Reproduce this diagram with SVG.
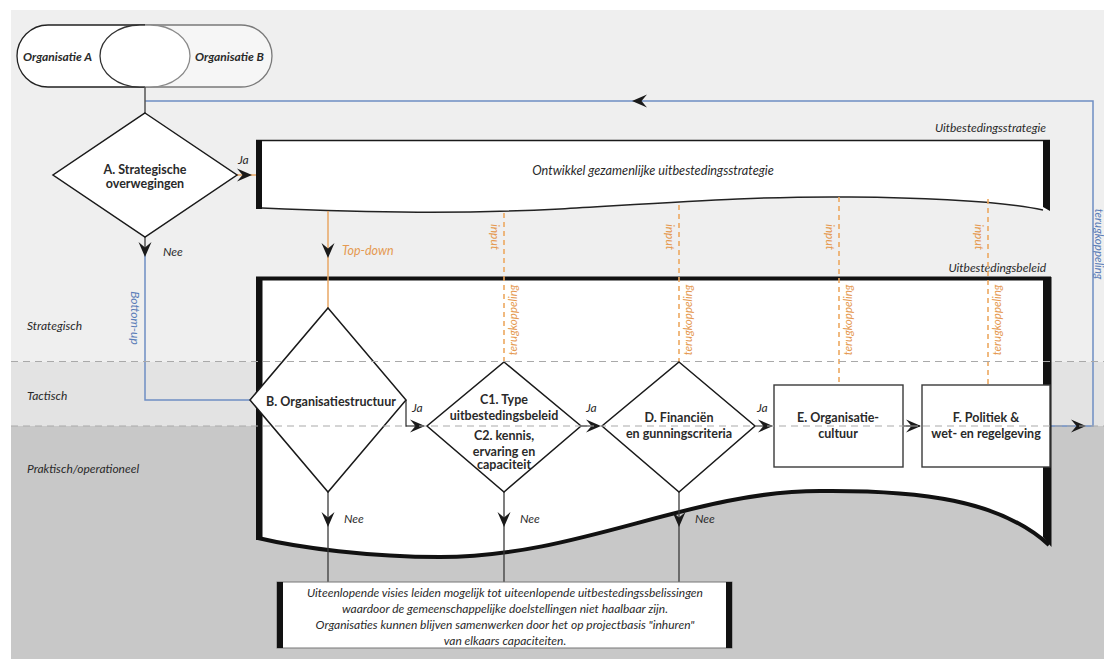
<svg xmlns="http://www.w3.org/2000/svg" width="1104" height="659" viewBox="0 0 1104 659">
  <style>
    .t { font-family: Lato, "Open Sans", "Liberation Sans", sans-serif; fill: #2a2a2a; }
    .b { font-weight: 700; font-size: 12.5px; }
    .i { font-style: italic; }
    .s11 { font-size: 11.5px; }
    .s12 { font-size: 12px; }
    .or { fill: #e59a52; }
    .bl { fill: #5a7db8; }
    .mid { text-anchor: middle; }
    .end { text-anchor: end; }
    .node { fill: #fff; stroke: #1a1a1a; stroke-width: 1.5; }
    .box { fill: #fff; stroke: #3a3a3a; stroke-width: 1.4; }
    .wire { fill: none; stroke: #3a3a3a; stroke-width: 1.3; }
    .blue { fill: none; stroke: #6f8fc4; stroke-width: 1.5; }
    .orange { fill: none; stroke: #e9a764; stroke-width: 1.5; }
    .odash { fill: none; stroke: #eda860; stroke-width: 1.6; stroke-dasharray: 5 4; }
    .band { fill: none; stroke: #a9a9a9; stroke-width: 1; stroke-dasharray: 7 5; }
  </style>
  <defs>
    <!-- chevron arrowhead, tip at the origin, pointing along +x -->
    <path id="ah" d="M0,0 L-15,-6.5 L-9.5,0 L-15,6.5 Z" fill="#1a1a1a"/>
  </defs>

  <!-- level bands -->
  <g id="bands">
    <rect x="0" y="0" width="1104" height="659" fill="#ffffff"/>
    <rect x="11" y="10" width="1093" height="352" fill="#efefef"/>
    <rect x="11" y="362" width="1093" height="64" fill="#e3e3e3"/>
    <rect x="11" y="426" width="1093" height="233" fill="#c8c8c8"/>
  </g>

  <!-- feedback loop behind the panels -->
  <g id="feedback-loop">
    <path class="blue" d="M1050,426 H1093 V101 H145"/>
  </g>

  <!-- partner organisations -->
  <g id="organisaties">
    <path d="M145,25 H241 A31,31 0 0 1 241,87 H145 Z" fill="#f6f6f6" stroke="#7a7a7a" stroke-width="1.3"/>
    <path d="M145,25 H48 A31,31 0 0 0 48,87 H145" fill="#ffffff" stroke="#222" stroke-width="1.3"/>
    <rect x="100" y="25" width="90" height="62" rx="40" ry="31" fill="#ffffff" stroke="none"/>
    <path d="M145,25 H140 A40,31 0 0 0 140,87 H145" fill="none" stroke="#333" stroke-width="1.3"/>
    <path d="M145,25 H150 A40,31 0 0 1 150,87 H145" fill="none" stroke="#8a8a8a" stroke-width="1.3"/>
    <text class="t i s12" x="23" y="61" font-weight="700">Organisatie A</text>
    <text class="t i s12" x="195" y="61" font-weight="700">Organisatie B</text>
  </g>

  <!-- outsourcing strategy panel -->
  <g id="uitbestedingsstrategie">
    <path d="M256,140 H1050 V210 L1043,210 C1010,203 960,198 850,197 C760,196 680,202 560,209 C460,214 380,213 262,208 L256,208 Z" fill="#ffffff"/>
    <path d="M262,208 C380,213 460,214 560,209 C680,202 760,196 850,197 C960,198 1010,203 1043,210" fill="none" stroke="#222" stroke-width="1.5"/>
    <line x1="256" y1="140.5" x2="1050" y2="140.5" stroke="#1a1a1a" stroke-width="1.3"/>
    <rect x="256" y="140" width="6" height="69" fill="#111"/>
    <path d="M1043,140 H1050 V211 L1043,207 Z" fill="#111"/>
    <text class="t i mid" x="653" y="175" font-size="12.7">Ontwikkel gezamenlijke uitbestedingsstrategie</text>
    <text class="t i s12 end" x="1046" y="132">Uitbestedingsstrategie</text>
  </g>

  <!-- outsourcing policy panel -->
  <g id="uitbestedingsbeleid">
    <path d="M256,277 H1051 V545 C1000,500 920,490 820,491 C690,491 580,557 440,557 C370,557 300,548 256,538 Z" fill="#ffffff"/>
    <path d="M1049,545 C1000,500 920,490 820,491 C690,491 580,557 440,557 C370,557 300,548 258,538" fill="none" stroke="#111" stroke-width="4"/>
    <rect x="256" y="276.5" width="795" height="4" fill="#111"/>
    <rect x="256" y="277" width="6.5" height="263" fill="#111"/>
    <path d="M1043,277 H1051.5 V547 L1043,537 Z" fill="#111"/>
    <text class="t i s12 end" x="1046" y="272">Uitbestedingsbeleid</text>
  </g>

  <!-- connectors -->
  <g id="connectors">
    <path d="M145,87 V113" stroke="#555" stroke-width="1.5" fill="none"/>
    <path class="orange" d="M237,175 H256"/>
    <use href="#ah" transform="translate(252,175)"/>
    <path class="wire" d="M145,237 V252"/>
    <path class="blue" d="M145,252 V400 H250"/>
    <use href="#ah" transform="translate(145,257) rotate(90)"/>
    <path class="orange" d="M328,211 V308"/>
    <use href="#ah" transform="translate(328,258) rotate(90)"/>
    <path class="odash" d="M504,213 V362"/>
    <path class="odash" d="M679,205 V362"/>
    <path class="odash" d="M839,197 V385"/>
    <path class="odash" d="M988,199 V385"/>
    <path class="wire" d="M406,400 V426 H424"/>
    <use href="#ah" transform="translate(425,426)"/>
    <path class="wire" d="M581,426 H600"/>
    <use href="#ah" transform="translate(601,426)"/>
    <path class="wire" d="M755,426 H772"/>
    <use href="#ah" transform="translate(773,426)"/>
    <path class="wire" d="M903,426 H920"/>
    <use href="#ah" transform="translate(921,426)"/>
    <use href="#ah" transform="translate(1086,426)"/>
    <use href="#ah" transform="translate(632,101) rotate(180)"/>
    <path class="wire" d="M328,492 V582"/>
    <path class="wire" d="M504,492 V582"/>
    <path class="wire" d="M679,492 V582"/>
    <use href="#ah" transform="translate(328,527) rotate(90)"/>
    <use href="#ah" transform="translate(504,527) rotate(90)"/>
    <use href="#ah" transform="translate(679,527) rotate(90)"/>
  </g>

  <!-- decision A -->
  <g id="node-a">
    <path class="node" d="M145,113 L237,175 L145,237 L53,175 Z"/>
    <text class="t b mid" x="145" y="174">A. Strategische</text>
    <text class="t b mid" x="145" y="188">overwegingen</text>
  </g>

  <!-- decision B -->
  <g id="node-b">
    <path class="node" d="M328,308 L406,400 L328,492 L250,400 Z"/>
    <text class="t b mid" x="331" y="406">B. Organisatiestructuur</text>
  </g>

  <!-- decision C -->
  <g id="node-c">
    <path class="node" d="M504,362 L581,426 L504,492 L427,426 Z"/>
    <text class="t b mid" x="504" y="404">C1. Type</text>
    <text class="t b mid" x="504" y="420">uitbestedingsbeleid</text>
    <text class="t b mid" x="504" y="440">C2. kennis,</text>
    <text class="t b mid" x="504" y="456">ervaring en</text>
    <text class="t b mid" x="504" y="469">capaciteit</text>
  </g>

  <!-- decision D -->
  <g id="node-d">
    <path class="node" d="M679,362 L755,426 L679,492 L602,426 Z"/>
    <text class="t b mid" x="679" y="422">D. Financiën</text>
    <text class="t b mid" x="679" y="438">en gunningscriteria</text>
  </g>

  <!-- step E -->
  <g id="node-e">
    <rect class="box" x="774" y="385" width="129" height="82"/>
    <text class="t b mid" x="838" y="422">E. Organisatie-</text>
    <text class="t b mid" x="838" y="438">cultuur</text>
  </g>

  <!-- step F -->
  <g id="node-f">
    <rect class="box" x="922" y="385" width="128" height="82"/>
    <text class="t b mid" x="986" y="422">F. Politiek &amp;</text>
    <text class="t b mid" x="986" y="438">wet- en regelgeving</text>
  </g>

  <!-- outcome when the answer is no -->
  <g id="node-nee">
    <rect x="277" y="582" width="455" height="66" fill="#fff" stroke="#777" stroke-width="1"/>
    <rect x="277" y="582" width="6" height="66" fill="#111"/>
    <rect x="726" y="582" width="6" height="66" fill="#111"/>
    <g class="t i mid" font-size="12">
      <text x="505" y="597">Uiteenlopende visies leiden mogelijk tot uiteenlopende uitbestedingssbelissingen</text>
      <text x="505" y="613">waardoor de gemeenschappelijke doelstellingen niet haalbaar zijn.</text>
      <text x="505" y="629">Organisaties kunnen blijven samenwerken door het op projectbasis "inhuren"</text>
      <text x="505" y="645">van elkaars capaciteiten.</text>
    </g>
  </g>

  <!-- level boundaries -->
  <g id="band-lines">
    <line class="band" x1="11" y1="361.5" x2="1104" y2="361.5"/>
    <line class="band" x1="11" y1="426" x2="1104" y2="426"/>
  </g>

  <!-- labels -->
  <g id="labels">
    <text class="t i s12" x="27" y="330" fill="#3a3a3a">Strategisch</text>
    <text class="t i s12" x="27" y="400" fill="#3a3a3a">Tactisch</text>
    <text class="t i s12" x="27" y="473" fill="#3a3a3a">Praktisch/operationeel</text>
    <text class="t i s12" x="238" y="164">Ja</text>
    <text class="t i s12" x="163" y="256">Nee</text>
    <text class="t i s12" x="412" y="412">Ja</text>
    <text class="t i s12" x="586" y="412">Ja</text>
    <text class="t i s12" x="757" y="412">Ja</text>
    <text class="t i s12" x="344" y="523">Nee</text>
    <text class="t i s12" x="520" y="523">Nee</text>
    <text class="t i s12" x="695" y="523">Nee</text>
    <text class="t i or" x="342" y="255" font-size="12.5">Top-down</text>
    <text class="t i s12 bl mid" transform="translate(131,318) rotate(90)">Bottom-up</text>
    <text class="t i bl mid" font-size="11.5" transform="translate(1095,244) rotate(90)">terugkoppeling</text>
    <text class="t i s12 or mid" transform="translate(491,237) rotate(90)">input</text>
    <text class="t i s12 or mid" transform="translate(666,237) rotate(90)">input</text>
    <text class="t i s12 or mid" transform="translate(826,237) rotate(90)">input</text>
    <text class="t i s12 or mid" transform="translate(975,237) rotate(90)">input</text>
    <text class="t i s11 or mid" transform="translate(517,320) rotate(-90)">terugkoppeling</text>
    <text class="t i s11 or mid" transform="translate(692,320) rotate(-90)">terugkoppeling</text>
    <text class="t i s11 or mid" transform="translate(852,320) rotate(-90)">terugkoppeling</text>
    <text class="t i s11 or mid" transform="translate(1001,320) rotate(-90)">terugkoppeling</text>
  </g>
</svg>
